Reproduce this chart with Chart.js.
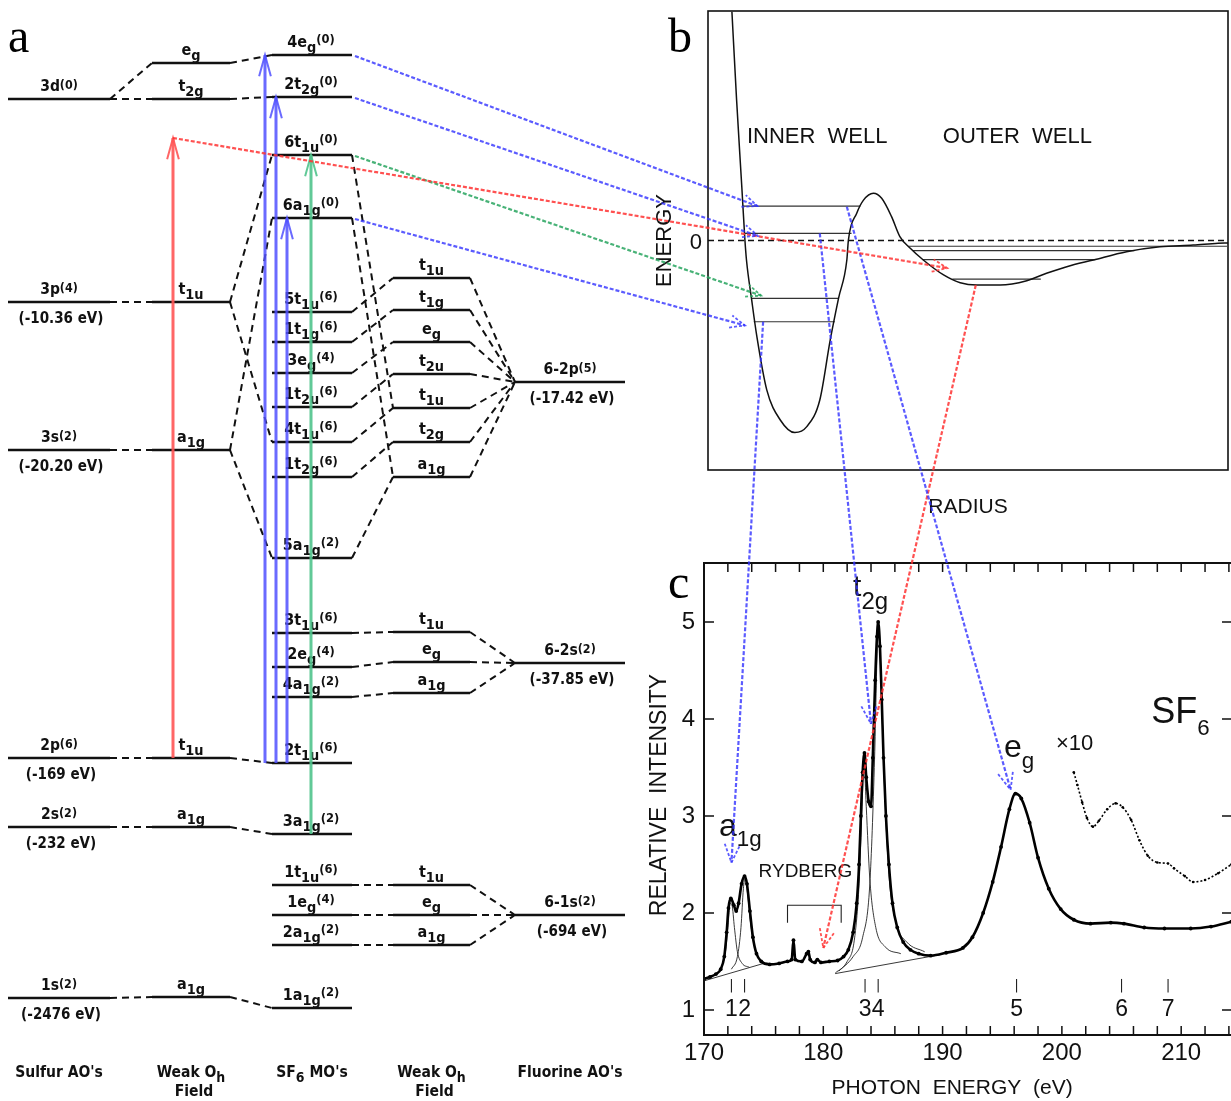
<!DOCTYPE html>
<html><head><meta charset="utf-8"><title>SF6 MO diagram, double well potential and S 2p photoabsorption</title>
<script src="https://cdn.jsdelivr.net/npm/chart.js@4.4.1/dist/chart.umd.min.js"></script>
<style>
html,body{margin:0;padding:0;background:#fff;width:1231px;height:1101px;overflow:hidden;position:relative;}
canvas{position:absolute;display:block;}
#cA{left:0;top:0;z-index:1}
#cB{left:640px;top:0;z-index:2}
#cC{left:600px;top:540px;z-index:3}
#cO{left:0;top:0;z-index:10;pointer-events:none}
</style></head><body>
<canvas id="cA" width="700" height="1101"></canvas>
<canvas id="cB" width="600" height="540"></canvas>
<canvas id="cC" width="640" height="561"></canvas>
<canvas id="cO" width="1231" height="1101"></canvas>
<script>
// ===================== DATA =====================
// ---- Panel a : schematic MO correlation diagram (ordinate in diagram units, top = higher energy)
const sulfurAOs = ['3d(0)','3p(4)','3s(2)','2p(6)','2s(2)','1s(2)'];
const sulfurAOEnergies = ['','(-10.36 eV)','(-20.20 eV)','(-169 eV)','(-232 eV)','(-2476 eV)'];
const sulfurAOLevel = [99,302,450,758,827,998];

const weakFieldS = ['e_{g}','t_{2g}','t_{1u}','a_{1g}','t_{1u}','a_{1g}','a_{1g}'];
const weakFieldSLevel = [63,99,302,450,758,827,997];

const sf6MOs = ['4e_{g}^{(0)}','2t_{2g}^{(0)}','6t_{1u}^{(0)}','6a_{1g}^{(0)}','5t_{1u}^{(6)}','1t_{1g}^{(6)}','3e_{g}^{(4)}','1t_{2u}^{(6)}','4t_{1u}^{(6)}','1t_{2g}^{(6)}','5a_{1g}^{(2)}','3t_{1u}^{(6)}','2e_{g}^{(4)}','4a_{1g}^{(2)}','2t_{1u}^{(6)}','3a_{1g}^{(2)}','1t_{1u}^{(6)}','1e_{g}^{(4)}','2a_{1g}^{(2)}','1a_{1g}^{(2)}'];
const sf6MOLevel = [55,97,155,218,312,342,373,407,442,477,558,633,667,697,763,834,885,915,945,1008];

const weakFieldF = ['t_{1u}','t_{1g}','e_{g}','t_{2u}','t_{1u}','t_{2g}','a_{1g}','t_{1u}','e_{g}','a_{1g}','t_{1u}','e_{g}','a_{1g}'];
const weakFieldFLevel = [278,310,342,374,408,442,477,632,662,693,885,915,945];

const fluorineAOs = ['6-2p(5)','6-2s(2)','6-1s(2)'];
const fluorineAOEnergies = ['(-17.42 eV)','(-37.85 eV)','(-694 eV)'];
const fluorineAOLevel = [382,663,915];

const columnCaptions = [['Sulfur AO\'s'],['Weak O_{h}','Field'],['SF_{6} MO\'s'],['Weak O_{h}','Field'],['Fluorine AO\'s']];

// correlation lines [index in left column, index in right column]
const corrSulfurToWeak = [[0,0],[0,1],[1,2],[2,3],[3,4],[4,5],[5,6]];
const corrWeakSToMO = [[0,0],[1,1],[2,2],[2,8],[3,3],[3,10],[4,14],[5,15],[6,19]];
const corrMOToWeakF = [[2,4],[3,6],[4,0],[5,1],[6,2],[7,3],[8,4],[9,5],[10,6],[11,7],[12,8],[13,9],[16,10],[17,11],[18,12]];
const corrWeakFToF = [[0,0],[1,0],[2,0],[3,0],[4,0],[5,0],[6,0],[7,1],[8,1],[9,1],[10,2],[11,2],[12,2]];

// excitations (vertical arrows): from level index of a column to MO index / diagram level
const excitations = [
  {col:'WS', from:4, toLevel:138, color:'red'},   // S 2p -> continuum
  {col:'MO', from:14, to:0, color:'blue'},        // 2t1u -> 4eg
  {col:'MO', from:14, to:1, color:'blue'},        // 2t1u -> 2t2g
  {col:'MO', from:14, to:3, color:'blue'},        // 2t1u -> 6a1g
  {col:'MO', from:15, to:2, color:'green'}        // 3a1g -> 6t1u
];

// ---- Panel b : double-well potential (radius, energy in arbitrary units)
const potentialRadius = [0.46,0.55,0.65,0.71,0.74,0.84,0.94,1.13,1.39,1.67,1.90,2.15,2.35,2.51,2.67,2.70,2.86,2.99,3.18,3.34,3.53,3.69,3.89,4.14,4.53,4.85,5.17,5.62,6.13,6.51,6.90,7.41,8.05,8.69,9.33,9.81,10.0];
const potentialEnergy = [9.97,6.12,2.34,0.02,-0.85,-2.59,-4.19,-6.51,-7.82,-8.37,-8.11,-6.95,-4.34,-2.52,-0.85,0.02,1.19,1.76,2.06,1.84,1.04,0.17,-0.34,-0.85,-1.50,-1.84,-1.94,-1.94,-1.75,-1.43,-1.14,-0.85,-0.49,-0.27,-0.20,-0.12,-0.11];
const innerLevelE = [1.50,0.31,-2.52,-3.54];
const innerLevelRmin = [0.66,0.70,0.84,0.88];
const innerLevelRmax = [2.93,2.76,2.51,2.44];
const outerLevelE = [-0.25,-0.44,-0.83,-1.68];
const outerLevelRmin = [3.85,3.94,4.13,4.70];
const outerLevelRmax = [9.98,8.20,7.45,6.40];

// ---- Panel c : S 2p photoabsorption of SF6
const photonEnergy = [170.0,170.5,171.0,171.4,171.7,171.9,172.05,172.25,172.5,172.7,172.9,173.15,173.4,173.6,173.85,174.1,174.4,174.8,175.5,176.3,177.0,177.35,177.5,177.65,178.2,178.6,178.75,178.9,179.3,179.5,179.8,180.5,181.2,181.7,182.1,182.5,182.8,183.0,183.15,183.3,183.45,183.6,183.8,184.0,184.15,184.35,184.5,184.6,184.75,184.9,185.05,185.25,185.5,185.8,186.2,186.7,187.3,188.0,189.0,190.3,191.7,192.5,193.4,194.2,194.9,195.6,196.1,196.6,197.3,198.0,198.9,199.9,201.0,202.4,204.1,205.2,206.9,208.6,210.8,212.5,214.2];
const relativeIntensity = [1.32,1.34,1.37,1.42,1.55,1.8,2.05,2.15,2.08,2.02,2.1,2.3,2.38,2.3,2.02,1.75,1.58,1.5,1.47,1.48,1.5,1.52,1.72,1.52,1.5,1.58,1.6,1.52,1.49,1.52,1.49,1.5,1.51,1.55,1.62,1.8,2.1,2.5,3.0,3.45,3.65,3.4,3.15,3.1,3.6,4.4,4.85,5.0,4.75,4.2,3.6,3.0,2.5,2.1,1.85,1.7,1.62,1.58,1.56,1.59,1.64,1.75,2.0,2.32,2.68,3.07,3.23,3.18,2.93,2.57,2.25,2.04,1.93,1.89,1.9,1.89,1.85,1.84,1.84,1.86,1.91];
const x10Energy = [201.0,201.3,201.7,202.1,202.6,203.1,203.8,204.5,205.1,205.8,206.5,207.2,208.0,208.9,209.4,210.3,211.0,212.0,213.1,214.2];
const x10Intensity = [3.45,3.32,3.14,2.98,2.89,2.95,3.07,3.13,3.09,2.96,2.75,2.59,2.52,2.51,2.46,2.38,2.32,2.34,2.41,2.5];
// fitted components and backgrounds (thin lines)
const fit1Energy = [171.0,171.5,171.8,172.0,172.2,172.35,172.55,172.8,173.2,173.8];
const fit1Intensity = [1.37,1.45,1.6,1.85,2.1,2.08,1.85,1.6,1.48,1.44];
const fit2Energy = [172.3,172.8,173.1,173.3,173.45,173.65,173.9,174.3,174.9,175.4];
const fit2Intensity = [1.42,1.55,1.85,2.25,2.36,2.2,1.9,1.62,1.5,1.48];
const fit3Energy = [181.0,182.0,182.6,183.0,183.25,183.4,183.6,183.9,184.4,185.2,186.5];
const fit3Intensity = [1.38,1.5,1.72,2.3,3.1,3.6,3.1,2.35,1.85,1.65,1.58];
const fit4Energy = [181.3,182.5,183.3,183.9,184.3,184.55,184.65,184.85,185.1,185.5,186.1,187.0,188.5];
const fit4Intensity = [1.40,1.55,1.75,2.3,3.6,4.85,4.95,4.4,3.4,2.4,1.9,1.7,1.6];
const background1Energy = [170.0,175.0];
const background1Intensity = [1.30,1.48];
const background2Energy = [181.0,189.8];
const background2Intensity = [1.375,1.57];
const peakNumbers = ['1','2','3','4','5','6','7'];
const peakEnergy = [172.3,173.4,183.5,184.6,196.2,205.0,208.9];
const rydbergRange = [177.0,181.5];
const photonTicks = [170,180,190,200,210];
const intensityTicks = [1,2,3,4,5];

// cross-panel arrows
const crossArrows = [
  {color:'blue',  from:{panel:'a', mo:0},         to:{panel:'b', r:0.95, E:1.5}},
  {color:'blue',  from:{panel:'a', mo:1},         to:{panel:'b', r:0.96, E:0.2}},
  {color:'red',   from:{panel:'a', excitation:0}, to:{panel:'b', r:4.6, E:-1.2}},
  {color:'green', from:{panel:'a', mo:2},         to:{panel:'b', r:1.02, E:-2.4}},
  {color:'blue',  from:{panel:'a', mo:3},         to:{panel:'b', r:0.71, E:-3.7}},
  {color:'blue',  from:{panel:'b', r:1.06, E:-3.54}, to:{panel:'c', eV:172.3, I:2.52}},
  {color:'blue',  from:{panel:'b', r:2.15, E:0.31},  to:{panel:'c', eV:184.0, I:3.95}},
  {color:'blue',  from:{panel:'b', r:2.67, E:1.47},  to:{panel:'c', eV:195.7, I:3.27}},
  {color:'red',   from:{panel:'b', r:5.15, E:-1.94}, to:{panel:'c', eV:180.0, I:1.64}}
];

// ===================== STYLE / LAYOUT =====================
const FAM = '"Liberation Sans", Arial, Helvetica, sans-serif';
const FAM_A = '"Liberation Sans Narrow", "DejaVu Sans Condensed", "Liberation Sans", sans-serif';
const SERIF = '"Liberation Serif", "DejaVu Serif", serif';
const COL = {S:[8,110], WS:[152,230], MO:[272,352], WF:[393,470], F:[515,625]};
const COL_KEYS = ['S','WS','MO','WF','F'];
const EXC_X = [173,265,276,287,311];
const EXC_COLOR = {red:'rgba(255,85,85,0.9)', blue:'rgba(80,80,255,0.85)', green:'rgba(80,195,140,0.9)'};
const CROSS_COLOR = {red:'rgba(255,50,50,0.85)', blue:'rgba(50,50,255,0.8)', green:'rgba(40,165,95,0.85)'};
const colLevels = {S:sulfurAOLevel, WS:weakFieldSLevel, MO:sf6MOLevel, WF:weakFieldFLevel, F:fluorineAOLevel};
const colLabels = {S:sulfurAOs, WS:weakFieldS, MO:sf6MOs, WF:weakFieldF, F:fluorineAOs};

// ===================== HELPERS =====================
function parseRich(s){
  const segs=[]; let i=0, cur='';
  while(i<s.length){
    const c=s[i];
    if((c==='_'||c==='^') && s[i+1]==='{'){
      if(cur){segs.push({t:cur,m:0});cur='';}
      const j=s.indexOf('}',i);
      segs.push({t:s.slice(i+2,j),m:c==='_'?1:2});
      i=j+1;
    } else {cur+=c;i++;}
  }
  if(cur) segs.push({t:cur,m:0});
  return segs;
}
function drawRich(ctx,s,x,y,o){
  const segs=parseRich(s);
  const fonts=segs.map(g=>{
    const sc = g.m===1 ? (o.subScale||0.8) : (g.m===2 ? (o.supScale||o.subScale||0.8) : 1);
    return (o.weight||'normal')+' '+(o.size*sc)+'px '+(o.family||FAM);});
  let w=0; const ws=[];
  segs.forEach((g,k)=>{ctx.font=fonts[k]; const m=ctx.measureText(g.t).width; ws.push(m); w+=m;});
  let cx = o.align==='left'?x:(o.align==='right'?x-w:x-w/2);
  ctx.fillStyle=o.color||'#111'; ctx.textBaseline='alphabetic'; ctx.textAlign='left';
  segs.forEach((g,k)=>{
    ctx.font=fonts[k];
    const dy = g.m===1 ? o.size*(o.subShift!=null?o.subShift:0.33) : (g.m===2 ? -o.size*(o.supShift!=null?o.supShift:0.25) : 0);
    ctx.fillText(g.t,cx,y+dy); cx+=ws[k];
  });
}
const zip=(xs,ys)=>xs.map((x,i)=>({x:x,y:ys[i]}));
const arrowHeads = {id:'arrowHeads', afterDatasetsDraw(chart){
  const ctx=chart.ctx;
  chart.data.datasets.forEach((ds,i)=>{
    if(!ds.arrow) return;
    const pts=chart.getDatasetMeta(i).data; const n=pts.length;
    const p1=pts[n-2], p2=pts[n-1];
    const ang=Math.atan2(p2.y-p1.y,p2.x-p1.x);
    const L=ds.arrow.len, a=ds.arrow.angle;
    ctx.save(); ctx.strokeStyle=ds.borderColor; ctx.lineWidth=ds.arrow.width||ds.borderWidth;
    ctx.setLineDash(ds.arrow.dash||[]);
    ctx.beginPath();
    ctx.moveTo(p2.x-L*Math.cos(ang-a), p2.y-L*Math.sin(ang-a));
    ctx.lineTo(p2.x,p2.y);
    ctx.lineTo(p2.x-L*Math.cos(ang+a), p2.y-L*Math.sin(ang+a));
    ctx.stroke(); ctx.restore();
  });
}};
const baseOpts = (scales,padding)=>({responsive:false, animation:false, devicePixelRatio:1, events:[],
  layout:{padding:padding||0}, plugins:{legend:{display:false}, tooltip:{enabled:false}, title:{display:false}},
  scales:scales});

// ===================== PANEL A =====================
const dsA=[];
function segA(x1,y1,x2,y2,style){
  dsA.push(Object.assign({data:[{x:x1,y:y1},{x:x2,y:y2}],showLine:true,pointRadius:0,borderColor:'#111',borderWidth:2.4,order:3},style));
}
excitations.forEach((ex,i)=>{
  const y0=colLevels[ex.col][ex.from];
  const y1=(ex.to!=null)?sf6MOLevel[ex.to]:ex.toLevel;
  segA(EXC_X[i],y0,EXC_X[i],y1,{borderColor:EXC_COLOR[ex.color],borderWidth:3,order:0,arrow:{len:22,angle:0.27,width:2}});
});
[['S','WS',corrSulfurToWeak],['WS','MO',corrWeakSToMO],['MO','WF',corrMOToWeakF],['WF','F',corrWeakFToF]].forEach(([a,b,pairs])=>{
  pairs.forEach(([i,j])=>segA(COL[a][1],colLevels[a][i],COL[b][0],colLevels[b][j],{borderDash:[7,5],borderWidth:2,order:2}));
});
COL_KEYS.forEach(k=>colLevels[k].forEach(y=>segA(COL[k][0],y,COL[k][1],y,{order:3})));

const labelsA={id:'labelsA', beforeDatasetsDraw(ch){
  const ctx=ch.ctx, X=v=>ch.scales.x.getPixelForValue(v), Y=v=>ch.scales.y.getPixelForValue(v);
  ctx.save();
  const o={size:16,family:FAM_A,weight:'bold',color:'#111',subScale:0.9,supScale:0.8,subShift:0.3,supShift:0.25};
  const cx=k=>X((COL[k][0]+COL[k][1])/2);
  COL_KEYS.forEach(k=>{
    colLabels[k].forEach((t,i)=>{
      let txt=t, opt=o;
      if(k==='S'||k==='F'){ txt=t.replace(/\((\d)\)/,'^{($1)}'); opt=Object.assign({},o,{supShift:0.1,size:15.5}); }
      drawRich(ctx,txt,cx(k)+(k==='MO'?-1:0),Y(colLevels[k][i])-8,opt);
    });
  });
  const oe=Object.assign({},o,{size:15});
  sulfurAOEnergies.forEach((t,i)=>{ if(t) drawRich(ctx,t,cx('S')+2,Y(sulfurAOLevel[i])+21,oe); });
  fluorineAOEnergies.forEach((t,i)=>drawRich(ctx,t,cx('F')+2,Y(fluorineAOLevel[i])+21,oe));
  columnCaptions.forEach((lines,c)=>{
    lines.forEach((t,l)=>drawRich(ctx,t,cx(COL_KEYS[c])+(l?3:0),ch.chartArea.bottom-24+l*19,Object.assign({},o,{size:15.5})));
  });
  ctx.font='48px '+SERIF; ctx.fillStyle='#000'; ctx.textAlign='left'; ctx.textBaseline='alphabetic';
  ctx.fillText('a',8,52);
  ctx.restore();
}};
const chartA=new Chart(document.getElementById('cA'),{type:'scatter',data:{datasets:dsA},
  options:baseOpts({x:{type:'linear',min:0,max:700,display:false},y:{type:'linear',min:0,max:1101,reverse:true,display:false}}),
  plugins:[labelsA,arrowHeads]});

// ===================== PANEL B =====================
const dsB=[
  {data:zip(potentialRadius,potentialEnergy),showLine:true,pointRadius:0,borderColor:'#111',borderWidth:1.5,cubicInterpolationMode:'monotone'},
  {data:[{x:0,y:0},{x:10,y:0}],showLine:true,pointRadius:0,borderColor:'#111',borderWidth:1.4,borderDash:[6,4]}
];
innerLevelE.forEach((e,i)=>dsB.push({data:[{x:innerLevelRmin[i],y:e},{x:innerLevelRmax[i],y:e}],showLine:true,pointRadius:0,borderColor:'#333',borderWidth:1.2}));
outerLevelE.forEach((e,i)=>dsB.push({data:[{x:outerLevelRmin[i],y:e},{x:outerLevelRmax[i],y:e}],showLine:true,pointRadius:0,borderColor:'#333',borderWidth:1.2}));
const decorB={id:'decorB', afterDraw(ch){
  const ctx=ch.ctx,a=ch.chartArea,X=v=>ch.scales.x.getPixelForValue(v),Y=v=>ch.scales.y.getPixelForValue(v);
  ctx.save();
  ctx.strokeStyle='#111'; ctx.lineWidth=1.6; ctx.strokeRect(a.left,a.top,a.right-a.left,a.bottom-a.top);
  ctx.fillStyle='#111'; ctx.textBaseline='middle'; ctx.textAlign='center';
  ctx.font='22px '+FAM;
  ctx.fillText('INNER  WELL',X(2.1),Y(4.5));
  ctx.fillText('OUTER  WELL',X(5.95),Y(4.5));
  ctx.font='21px '+FAM;
  ctx.fillText('RADIUS',X(5.0),a.bottom+37);
  ctx.font='22px '+FAM; ctx.textAlign='right';
  ctx.fillText('0',a.left-6,Y(0)+2);
  ctx.save(); ctx.translate(a.left-43,Y(0)); ctx.rotate(-Math.PI/2); ctx.textAlign='center';
  ctx.fillText('ENERGY',0,0); ctx.restore();
  ctx.font='48px '+SERIF; ctx.textAlign='left'; ctx.textBaseline='alphabetic'; ctx.fillStyle='#000';
  ctx.fillText('b',a.left-40,52);
  ctx.restore();
}};
const chartB=new Chart(document.getElementById('cB'),{type:'scatter',data:{datasets:dsB},
  options:baseOpts({x:{type:'linear',min:0,max:10,display:false},y:{type:'linear',min:-10,max:10,display:false}},{left:68,top:11,right:12,bottom:70}),
  plugins:[decorB]});

// ===================== PANEL C =====================
const thin={showLine:true,pointRadius:0,borderColor:'#222',borderWidth:0.9,cubicInterpolationMode:'monotone'};
const dsC=[
  {data:zip(photonEnergy,relativeIntensity),showLine:true,borderColor:'#000',borderWidth:2.6,pointRadius:1.9,pointBackgroundColor:'#000',pointBorderWidth:0,cubicInterpolationMode:'monotone'},
  {data:zip(x10Energy,x10Intensity),showLine:true,borderColor:'#000',borderWidth:1.6,borderDash:[2,2],pointRadius:1.3,pointBackgroundColor:'#000',pointBorderWidth:0,cubicInterpolationMode:'monotone'},
  Object.assign({data:zip(fit1Energy,fit1Intensity)},thin),
  Object.assign({data:zip(fit2Energy,fit2Intensity)},thin),
  Object.assign({data:zip(fit3Energy,fit3Intensity)},thin),
  Object.assign({data:zip(fit4Energy,fit4Intensity)},thin),
  Object.assign({data:zip(background1Energy,background1Intensity)},thin),
  Object.assign({data:zip(background2Energy,background2Intensity)},thin),
  {data:[{x:rydbergRange[0],y:1.9},{x:rydbergRange[0],y:2.08},{x:rydbergRange[1],y:2.08},{x:rydbergRange[1],y:1.9}],showLine:true,pointRadius:0,borderColor:'#222',borderWidth:1.1}
];
peakEnergy.forEach(e=>dsC.push({data:[{x:e,y:1.18},{x:e,y:1.32}],showLine:true,pointRadius:0,borderColor:'#222',borderWidth:1.1}));
const decorC={id:'decorC', afterDraw(ch){
  const ctx=ch.ctx,a=ch.chartArea,xs=ch.scales.x,ys=ch.scales.y,X=v=>xs.getPixelForValue(v),Y=v=>ys.getPixelForValue(v);
  ctx.save();
  ctx.strokeStyle='#111'; ctx.lineWidth=2; ctx.strokeRect(a.left,a.top,a.right-a.left,a.bottom-a.top);
  ctx.lineWidth=1.5; ctx.beginPath();
  for(let v=170; v<=xs.max; v+=2){ const x=X(v); ctx.moveTo(x,a.bottom); ctx.lineTo(x,a.bottom-9); ctx.moveTo(x,a.top); ctx.lineTo(x,a.top+9); }
  intensityTicks.forEach(v=>{ const y=Y(v); ctx.moveTo(a.left,y); ctx.lineTo(a.left+10,y); ctx.moveTo(a.right,y); ctx.lineTo(a.right-10,y); });
  ctx.stroke();
  ctx.fillStyle='#111'; ctx.font='24px '+FAM; ctx.textBaseline='middle'; ctx.textAlign='center';
  photonTicks.forEach(v=>ctx.fillText(String(v),X(v),a.bottom+18));
  ctx.textAlign='right';
  intensityTicks.forEach(v=>ctx.fillText(String(v),a.left-9,Y(v)));
  ctx.textAlign='center'; ctx.font='21px '+FAM;
  ctx.fillText('PHOTON  ENERGY  (eV)',X(190.8),a.bottom+53);
  ctx.save(); ctx.translate(a.left-44,(a.top+a.bottom)/2-4); ctx.rotate(-Math.PI/2);
  ctx.font='23px '+FAM; ctx.fillText('RELATIVE  INTENSITY',0,0); ctx.restore();
  // peak numbers
  ctx.font='23px '+FAM;
  peakNumbers.forEach((t,i)=>ctx.fillText(t,X(peakEnergy[i]),Y(1.0)));
  ctx.font='19px '+FAM; ctx.fillText('RYDBERG',X(178.5),Y(2.42));
  ctx.font='22px '+FAM; ctx.textAlign='left'; ctx.fillText('\u00d710',X(199.5),Y(3.74));
  drawRich(ctx,'a_{1g}',X(171.25),Y(2.79),{size:32,subScale:0.7,subShift:0.3,align:'left'});
  drawRich(ctx,'t_{2g}',X(182.5),Y(5.27),{size:30,subScale:0.8,subShift:0.45,align:'left'});
  drawRich(ctx,'e_{g}',X(195.15),Y(3.61),{size:32,subScale:0.7,subShift:0.35,align:'left'});
  drawRich(ctx,'SF_{6}',X(207.5),Y(3.96),{size:36,subScale:0.62,subShift:0.35,align:'left'});
  ctx.font='48px '+SERIF; ctx.fillStyle='#000'; ctx.textAlign='left'; ctx.textBaseline='alphabetic';
  ctx.fillText('c',a.left-36,a.top+35);
  ctx.restore();
}};
const chartC=new Chart(document.getElementById('cC'),{type:'scatter',data:{datasets:dsC},
  options:baseOpts({x:{type:'linear',min:170,max:214.26,display:false},y:{type:'linear',min:0.742,max:5.608,display:false}},{left:104,top:23,right:8,bottom:66}),
  plugins:[decorC]});

// ===================== OVERLAY (cross-panel arrows) =====================
const cA=document.getElementById('cA'), cB=document.getElementById('cB'), cC=document.getElementById('cC');
function toPage(ref){
  if(ref.panel==='a'){
    let x,y;
    if(ref.mo!=null){ x=COL.MO[1]+3; y=sf6MOLevel[ref.mo]+1; }
    else { x=EXC_X[ref.excitation]; y=excitations[ref.excitation].toLevel; }
    return {x:chartA.scales.x.getPixelForValue(x)+cA.offsetLeft, y:chartA.scales.y.getPixelForValue(y)+cA.offsetTop};
  }
  if(ref.panel==='b') return {x:chartB.scales.x.getPixelForValue(ref.r)+cB.offsetLeft, y:chartB.scales.y.getPixelForValue(ref.E)+cB.offsetTop};
  return {x:chartC.scales.x.getPixelForValue(ref.eV)+cC.offsetLeft, y:chartC.scales.y.getPixelForValue(ref.I)+cC.offsetTop};
}
const dsO=crossArrows.map(ar=>({data:[toPage(ar.from),toPage(ar.to)],showLine:true,pointRadius:0,
  borderColor:CROSS_COLOR[ar.color],borderWidth:2.2,borderDash:[4,2],
  arrow:{len:ar.to.panel==='c'?20:16,angle:0.4,dash:[3,2],width:1.8}}));
new Chart(document.getElementById('cO'),{type:'scatter',data:{datasets:dsO},
  options:baseOpts({x:{type:'linear',min:0,max:1231,display:false},y:{type:'linear',min:0,max:1101,reverse:true,display:false}}),
  plugins:[arrowHeads]});
</script>
</body></html>
